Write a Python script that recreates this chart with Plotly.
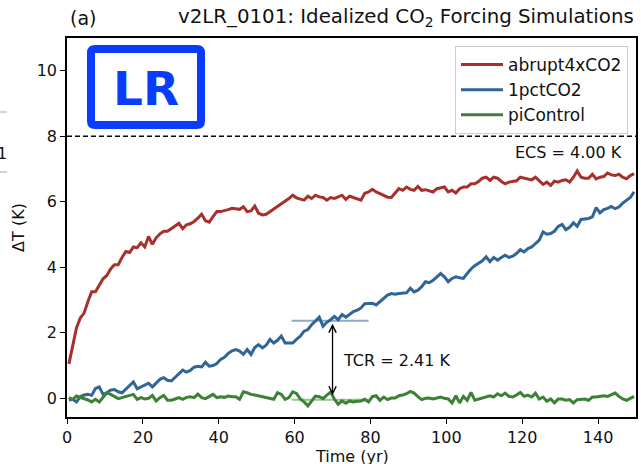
import numpy as np
import plotly.graph_objects as go

# Annual-mean global temperature anomaly (K), years 1-150
abrupt4xCO2 = [
    1.05, 1.65, 2.15, 2.45, 2.60, 2.95, 3.25, 3.25, 3.45, 3.65,
    3.75, 3.95, 4.08, 4.08, 4.30, 4.48, 4.45, 4.62, 4.60, 4.75,
    4.62, 4.94, 4.70, 4.90, 5.02, 5.10, 5.10, 5.18, 5.24, 5.34,
    5.18, 5.30, 5.33, 5.40, 5.50, 5.62, 5.42, 5.38, 5.55, 5.70,
    5.70, 5.72, 5.76, 5.80, 5.78, 5.77, 5.85, 5.70, 5.72, 5.87,
    5.65, 5.60, 5.62, 5.70, 5.78, 5.85, 5.93, 6.00, 6.10, 6.20,
    6.12, 6.08, 6.05, 6.17, 6.10, 6.20, 6.15, 6.13, 6.05, 6.13,
    6.10, 6.15, 6.20, 6.07, 6.17, 6.13, 6.08, 6.05, 6.26, 6.30,
    6.38, 6.30, 6.25, 6.20, 6.14, 6.13, 6.27, 6.40, 6.35, 6.45,
    6.38, 6.35, 6.47, 6.35, 6.37, 6.33, 6.30, 6.40, 6.42, 6.45,
    6.30, 6.35, 6.27, 6.40, 6.45, 6.45, 6.55, 6.55, 6.62, 6.72,
    6.75, 6.65, 6.75, 6.72, 6.62, 6.55, 6.60, 6.62, 6.64, 6.75,
    6.72, 6.70, 6.67, 6.75, 6.65, 6.53, 6.60, 6.50, 6.63, 6.60,
    6.65, 6.67, 6.60, 6.75, 6.94, 6.75, 6.72, 6.72, 6.84, 6.70,
    6.75, 6.77, 6.88, 6.82, 6.80, 6.84, 6.75, 6.70, 6.80, 6.86,
]

onepctCO2 = [
    -0.05, -0.03, -0.11, 0.05, 0.10, 0.12, 0.09, 0.30, 0.35, 0.12,
    0.17, 0.25, 0.27, 0.20, 0.17, 0.29, 0.38, 0.50, 0.29, 0.35,
    0.40, 0.46, 0.35, 0.48, 0.58, 0.63, 0.55, 0.53, 0.63, 0.73,
    0.86, 0.80, 0.85, 0.95, 0.98, 0.96, 1.10, 0.98, 1.00, 1.06,
    1.19, 1.25, 1.37, 1.45, 1.49, 1.44, 1.34, 1.49, 1.34, 1.55,
    1.64, 1.54, 1.62, 1.80, 1.69, 1.77, 1.90, 1.69, 1.68, 1.69,
    1.80, 1.90, 2.05, 2.10, 2.25, 2.35, 2.48, 2.20, 2.32, 2.40,
    2.50, 2.40, 2.56, 2.48, 2.58, 2.65, 2.69, 2.76, 2.89, 2.89,
    2.90, 2.85, 2.95, 3.05, 3.15, 3.20, 3.18, 3.20, 3.20, 3.22,
    3.36, 3.25, 3.30, 3.41, 3.56, 3.53, 3.60, 3.72, 3.81, 3.71,
    3.56, 3.66, 3.71, 3.68, 3.66, 3.81, 3.95, 4.05, 4.12, 4.20,
    4.32, 4.17, 4.30, 4.22, 4.30, 4.37, 4.30, 4.34, 4.42, 4.54,
    4.47, 4.57, 4.62, 4.73, 4.83, 5.08, 5.01, 5.03, 5.10, 5.25,
    5.31, 5.15, 5.22, 5.36, 5.25, 5.46, 5.47, 5.49, 5.54, 5.82,
    5.66, 5.76, 5.80, 5.86, 5.79, 5.84, 5.96, 6.04, 6.13, 6.30,
]

piControl = [
    0.02, -0.03, 0.07, 0.03, 0.00, -0.05, -0.11, -0.03, -0.11, 0.02,
    0.17, 0.12, 0.05, -0.01, 0.02, 0.05, 0.07, 0.12, -0.03, 0.02,
    -0.02, 0.00, 0.09, -0.08, 0.02, 0.09, -0.06, -0.06, -0.02, 0.02,
    -0.03, 0.03, 0.05, 0.02, 0.13, 0.02, -0.01, 0.05, 0.12, 0.02,
    0.05, 0.03, 0.07, 0.05, 0.05, -0.03, 0.20, 0.17, 0.12, 0.10,
    0.07, 0.05, 0.02, -0.01, -0.03, 0.17, 0.12, -0.03, 0.02, 0.20,
    0.15, -0.02, -0.11, -0.23, -0.08, 0.07, 0.05, -0.01, 0.10, 0.19,
    -0.03, -0.18, -0.08, -0.15, -0.08, -0.11, -0.09, -0.08, -0.03, -0.11,
    0.05, 0.08, -0.06, 0.04, -0.04, 0.01, 0.01, 0.08, 0.10, 0.14,
    0.21, 0.16, 0.05, -0.04, 0.00, 0.01, -0.02, 0.01, 0.04, 0.00,
    -0.02, -0.14, 0.08, -0.14, 0.06, -0.06, 0.18, -0.06, -0.02, 0.01,
    0.05, 0.08, 0.04, 0.14, 0.08, 0.16, 0.06, 0.04, 0.10, 0.18,
    0.06, 0.10, 0.04, 0.16, -0.02, 0.04, -0.09, -0.02, -0.14, -0.02,
    -0.02, -0.06, -0.04, -0.14, -0.04, -0.04, -0.02, -0.06, 0.04, 0.04,
    0.06, 0.08, 0.06, 0.10, 0.16, 0.06, -0.02, -0.06, 0.00, 0.06,
]

series_names = ["abrupt4xCO2", "1pctCO2", "piControl"]
series_colors = ["#a8302c", "#2f6598", "#3c8134"]

ECS = 4.00          # K
TCR = 2.41          # K
tcr_years = (60, 80)

x_ticks = [0, 20, 40, 60, 80, 100, 120, 140]
y_ticks = [0, 2, 4, 6, 8, 10]

years = np.arange(len(abrupt4xCO2)) + 0.5

FONT = "DejaVu Sans"
W, H = 641, 464
ML, MR, MT, MB = 67, 5, 38, 47
PW, PH = W - ML - MR, H - MT - MB


def px(xp):
    """pixel column -> paper x"""
    return (xp - ML) / PW


def py(yp):
    """pixel row -> paper y"""
    return (H - MB - yp) / PH


fig = go.Figure()

for name, vals, col in zip(series_names, [abrupt4xCO2, onepctCO2, piControl], series_colors):
    fig.add_trace(go.Scatter(
        x=years, y=vals, mode="lines", name=name,
        line=dict(color=col, width=3),
    ))

# TCR: 20-year mean around CO2 doubling relative to control mean
pi_mean = float(np.mean(piControl[tcr_years[0]:tcr_years[1]]))
warm_level = pi_mean + TCR
seg_x = [tcr_years[0] - 0.8, tcr_years[1] - 0.5]
fig.add_trace(go.Scatter(
    x=seg_x, y=[warm_level, warm_level], mode="lines", showlegend=False,
    line=dict(color="rgba(47,101,152,0.55)", width=2), hoverinfo="skip",
))
fig.add_trace(go.Scatter(
    x=seg_x, y=[pi_mean, pi_mean], mode="lines", showlegend=False,
    line=dict(color="rgba(60,129,52,0.5)", width=2), hoverinfo="skip",
))

mid_year = (tcr_years[0] + tcr_years[1]) / 2
fig.add_annotation(
    x=mid_year, y=warm_level, ax=mid_year, ay=pi_mean,
    xref="x", yref="y", axref="x", ayref="y",
    text="", showarrow=True, arrowside="end+start",
    arrowhead=5, startarrowhead=5, arrowsize=1.1, startarrowsize=1.1,
    arrowwidth=1.3, arrowcolor="black", standoff=3, startstandoff=3,
)
fig.add_annotation(
    x=mid_year + 2.3, y=(warm_level + pi_mean) / 2, xref="x", yref="y",
    text=f"TCR = {TCR:.2f} K", showarrow=False, xanchor="left", yanchor="middle",
    font=dict(family=FONT, size=16, color="#111"),
)

# ECS reference: equilibrium response to 4xCO2 (2 x ECS)
fig.add_shape(
    type="line", xref="paper", yref="y", x0=0, x1=1, y0=2 * ECS, y1=2 * ECS,
    line=dict(color="black", width=1.5, dash="5px,3px"),
)
fig.add_annotation(
    x=146.8, y=2 * ECS - 0.5, xref="x", yref="y",
    text=f"ECS = {ECS:.2f} K", showarrow=False, xanchor="right", yanchor="middle",
    font=dict(family=FONT, size=16, color="#111"),
)

# "LR" badge
bx0, bx1, by0, by1, r = 91, 201, 49, 125, 4
rx, ry = r / PW, r / PH
X0, X1, Y0, Y1 = px(bx0), px(bx1), py(by1), py(by0)
path = (
    f"M {X0 + rx},{Y0} L {X1 - rx},{Y0} Q {X1},{Y0} {X1},{Y0 + ry} "
    f"L {X1},{Y1 - ry} Q {X1},{Y1} {X1 - rx},{Y1} "
    f"L {X0 + rx},{Y1} Q {X0},{Y1} {X0},{Y1 - ry} "
    f"L {X0},{Y0 + ry} Q {X0},{Y0} {X0 + rx},{Y0} Z"
)
fig.add_shape(type="path", xref="paper", yref="paper", path=path,
              line=dict(color="#0a3cff", width=8), fillcolor="white", layer="above")
fig.add_annotation(
    x=px(146), y=py(88), xref="paper", yref="paper", text="<b>LR</b>",
    showarrow=False, xanchor="center", yanchor="middle",
    font=dict(family=FONT, size=47, color="#0a3cff"),
)

# panel label and title
fig.add_annotation(
    x=px(68), y=py(18), xref="paper", yref="paper", text="(a)",
    showarrow=False, xanchor="left", yanchor="middle",
    font=dict(family=FONT, size=19, color="#111"),
)
fig.add_annotation(
    x=1, y=py(18), xref="paper", yref="paper",
    text="v2LR_0101: Idealized CO<sub>2</sub> Forcing Simulations",
    showarrow=False, xanchor="right", yanchor="middle",
    font=dict(family=FONT, size=19.8, color="#111"),
)

# x-axis title (sits at the lower edge of the figure)
fig.add_annotation(
    x=0.5, y=py(456), xref="paper", yref="paper", text="Time (yr)",
    showarrow=False, xanchor="center", yanchor="middle",
    font=dict(family=FONT, size=16, color="#111"),
)

# edge of the neighbouring panel
for yy in (112, 172):
    fig.add_shape(type="line", xref="paper", yref="paper",
                  x0=px(0), x1=px(7), y0=py(yy), y1=py(yy),
                  line=dict(color="#d4d4d4", width=2))
fig.add_annotation(x=px(9), y=py(153), xref="paper", yref="paper", text="1",
                   showarrow=False, xanchor="right", yanchor="middle",
                   font=dict(family=FONT, size=16, color="#111"))

axis_common = dict(
    showline=True, linecolor="black", linewidth=1.5, mirror=True,
    ticks="outside", ticklen=5, tickwidth=1.3, tickcolor="black",
    showgrid=False, zeroline=False, automargin=False,
    tickfont=dict(family=FONT, size=16, color="#111"),
)
fig.update_xaxes(range=[0, 150], tickvals=x_ticks, **axis_common)
fig.update_yaxes(
    range=[-0.57, 11], tickvals=y_ticks, **axis_common,
    title=dict(text="ΔT (K)", font=dict(family=FONT, size=16, color="#111"), standoff=8),
)

fig.update_layout(
    width=W, height=H,
    margin=dict(l=ML, r=MR, t=MT, b=MB),
    paper_bgcolor="white", plot_bgcolor="white",
    font=dict(family=FONT, size=16, color="#111"),
    legend=dict(
        x=px(628), y=py(46), xanchor="right", yanchor="top",
        bgcolor="rgba(255,255,255,0.85)", bordercolor="#cccccc", borderwidth=1,
        font=dict(family=FONT, size=17, color="#111"), itemwidth=42,
    ),
    showlegend=True,
)

fig.write_html("out.html")
